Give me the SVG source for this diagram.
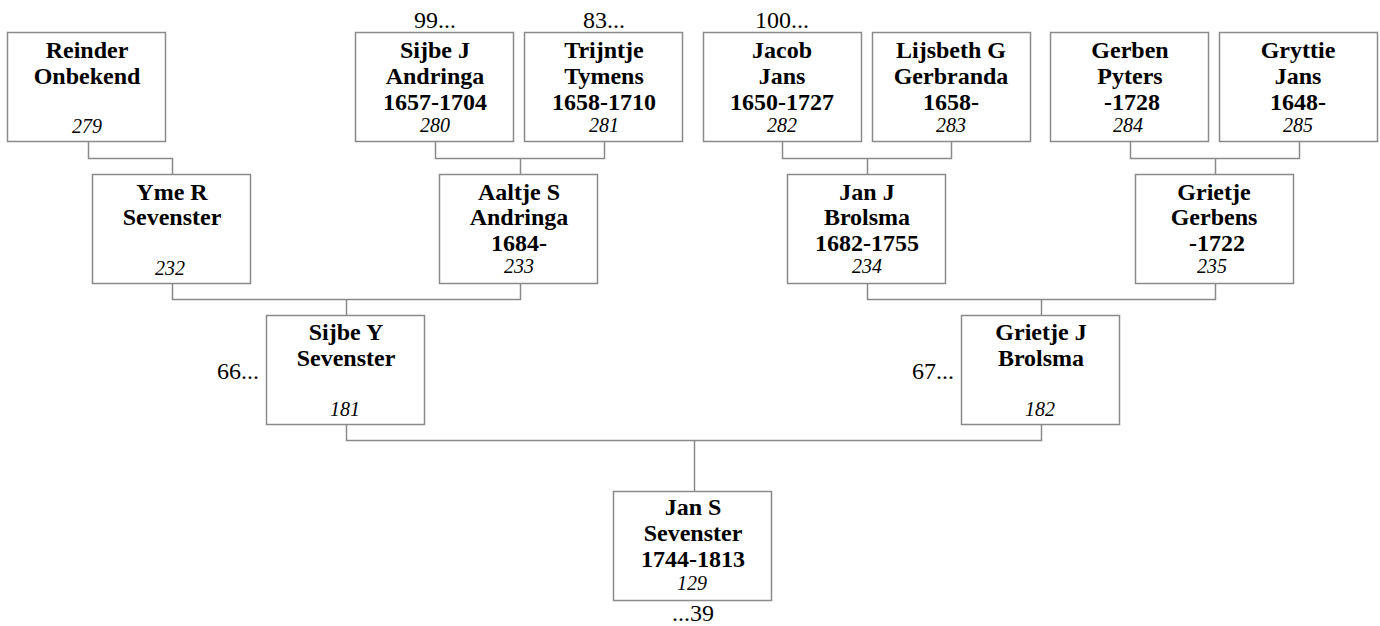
<svg xmlns="http://www.w3.org/2000/svg" width="1380" height="626" viewBox="0 0 1380 626">
<style>
.box{fill:#fff;stroke:#8a8a8a;stroke-width:1.5}
.con path{fill:none;stroke:#8a8a8a;stroke-width:1.5}
text{font-family:"Liberation Serif","Times New Roman",serif;text-anchor:middle;fill:#000}
.n{font-size:24px;font-weight:bold}
.id{font-size:20px;font-style:italic}
.ref{font-size:24px}
.refr{font-size:24px;text-anchor:end}
</style>
<rect width="1380" height="626" fill="#fff"/>
<g class="con" id="connectors">
<path d="M88.5 141.5V158.5H172.5V174.5"/>
<path d="M435.5 141.5V158.5H604.5V141.5M520.5 158.5V174.5"/>
<path d="M782.5 141.5V158.5H951.5V141.5M867.5 158.5V174.5"/>
<path d="M1130.5 141.5V158.5H1299.5V141.5M1215.5 158.5V174.5"/>
<path d="M172.5 283.5V299.5H520.5V283.5M346.5 299.5V315.5"/>
<path d="M867.5 283.5V299.5H1215.5V283.5M1041.5 299.5V315.5"/>
<path d="M346.5 424.5V440.5H1041.5V424.5M694.5 440.5V491.5"/>
</g>
<g id="n279"><rect class="box" x="7.5" y="32.5" width="158" height="109"/>
<text class="n" x="87" y="58">Reinder</text><text class="n" x="87" y="84">Onbekend</text><text class="id" x="87" y="133">279</text></g>
<g id="n280"><text class="ref" x="435" y="28">99...</text><rect class="box" x="355.5" y="32.5" width="158" height="109"/>
<text class="n" x="435" y="58">Sijbe J</text><text class="n" x="435" y="84">Andringa</text><text class="n" x="435" y="110">1657-1704</text><text class="id" x="435" y="132">280</text></g>
<g id="n281"><text class="ref" x="604" y="28">83...</text><rect class="box" x="524.5" y="32.5" width="158" height="109"/>
<text class="n" x="604" y="58">Trijntje</text><text class="n" x="604" y="84">Tymens</text><text class="n" x="604" y="110">1658-1710</text><text class="id" x="604" y="132">281</text></g>
<g id="n282"><text class="ref" x="782" y="28">100...</text><rect class="box" x="703.5" y="32.5" width="158" height="109"/>
<text class="n" x="782" y="58">Jacob</text><text class="n" x="782" y="84">Jans</text><text class="n" x="782" y="110">1650-1727</text><text class="id" x="782" y="132">282</text></g>
<g id="n283"><rect class="box" x="872.5" y="32.5" width="158" height="109"/>
<text class="n" x="951" y="58">Lijsbeth G</text><text class="n" x="951" y="84">Gerbranda</text><text class="n" x="951" y="110">1658-</text><text class="id" x="951" y="132">283</text></g>
<g id="n284"><rect class="box" x="1050.5" y="32.5" width="158" height="109"/>
<text class="n" x="1130" y="58">Gerben</text><text class="n" x="1130" y="84">Pyters</text><text class="n" x="1132" y="110">-1728</text><text class="id" x="1128" y="132">284</text></g>
<g id="n285"><rect class="box" x="1219.5" y="32.5" width="158" height="109"/>
<text class="n" x="1298" y="58">Gryttie</text><text class="n" x="1298" y="84">Jans</text><text class="n" x="1298" y="110">1648-</text><text class="id" x="1298" y="132">285</text></g>
<g id="n232"><rect class="box" x="92.5" y="174.5" width="158" height="109"/>
<text class="n" x="172" y="200">Yme R</text><text class="n" x="172" y="225">Sevenster</text><text class="id" x="170" y="275">232</text></g>
<g id="n233"><rect class="box" x="439.5" y="174.5" width="158" height="109"/>
<text class="n" x="519" y="200">Aaltje S</text><text class="n" x="519" y="225">Andringa</text><text class="n" x="519" y="251">1684-</text><text class="id" x="519" y="273">233</text></g>
<g id="n234"><rect class="box" x="787.5" y="174.5" width="158" height="109"/>
<text class="n" x="867" y="200">Jan J</text><text class="n" x="867" y="225">Brolsma</text><text class="n" x="867" y="251">1682-1755</text><text class="id" x="867" y="273">234</text></g>
<g id="n235"><rect class="box" x="1135.5" y="174.5" width="158" height="109"/>
<text class="n" x="1214" y="200">Grietje</text><text class="n" x="1214" y="225">Gerbens</text><text class="n" x="1217" y="251">-1722</text><text class="id" x="1212" y="273">235</text></g>
<g id="n181"><text class="refr" x="259" y="379">66...</text><rect class="box" x="266.5" y="315.5" width="158" height="109"/>
<text class="n" x="346" y="340">Sijbe Y</text><text class="n" x="346" y="366">Sevenster</text><text class="id" x="345" y="416">181</text></g>
<g id="n182"><text class="refr" x="954" y="379">67...</text><rect class="box" x="961.5" y="315.5" width="158" height="109"/>
<text class="n" x="1041" y="340">Grietje J</text><text class="n" x="1041" y="366">Brolsma</text><text class="id" x="1040" y="416">182</text></g>
<g id="n129"><rect class="box" x="613.5" y="491.5" width="158" height="109"/>
<text class="n" x="693" y="515">Jan S</text><text class="n" x="693" y="541">Sevenster</text><text class="n" x="693" y="567">1744-1813</text><text class="id" x="692" y="590">129</text>
<text class="ref" x="693" y="621">...39</text></g>
</svg>
